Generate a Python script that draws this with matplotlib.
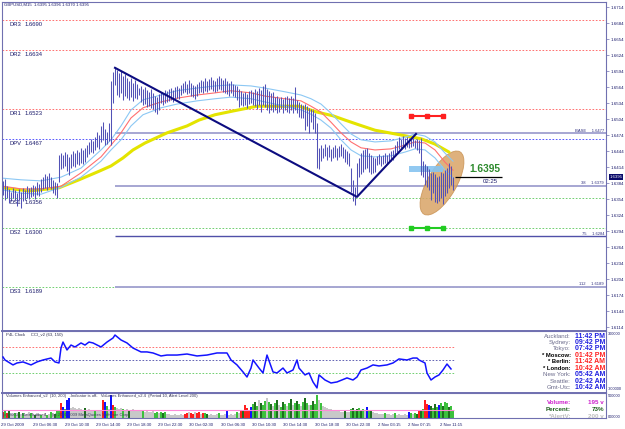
import matplotlib
matplotlib.use("Agg")
import matplotlib.pyplot as plt
from matplotlib.patches import Ellipse, Rectangle
from matplotlib.transforms import ScaledTranslation, blended_transform_factory

plt.rcParams['font.family'] = ['Liberation Sans', 'DejaVu Sans']

# ---------------- data ----------------
header = "GBPUSD,M15  1.6395 1.6396 1.6370 1.6395"

highs = [1.6388,1.6392,1.6378,1.6372,1.6368,1.6375,1.6370,1.6366,1.6372,1.6368,1.6375,1.6370,1.6378,1.6374,
         1.6376,1.6380,1.6378,1.6385,1.6383,1.6392,1.6396,1.6401,1.6398,1.6403,1.6395,1.6390,1.6386,1.6384,
         1.6437,1.6440,1.6436,1.6442,1.6438,1.6433,1.6439,1.6444,1.6441,1.6446,1.6443,1.6449,1.6446,1.6450,
         1.6455,1.6460,1.6466,1.6463,1.6470,1.6480,1.6474,
         1.6490,1.6498,1.6486,1.6480,1.6496,
         1.6575,1.6592,1.6600,1.6596,1.6590,1.6594,
         1.6585,1.6588,1.6581,1.6575,1.6580,1.6572,1.6577,1.6570,1.6562,1.6566,
         1.6560,1.6564,1.6558,1.6555,1.6560,1.6552,1.6548,1.6545,1.6550,1.6555,
         1.6552,1.6558,1.6556,1.6560,1.6562,1.6558,1.6564,1.6566,1.6562,1.6568,
         1.6572,1.6575,1.6570,1.6578,1.6572,1.6568,1.6565,1.6570,1.6574,1.6577,
         1.6575,1.6580,1.6576,1.6579,1.6582,1.6578,1.6575,1.6580,1.6584,1.6581,
         1.6578,1.6580,1.6576,1.6572,1.6575,1.6570,1.6568,1.6565,1.6560,1.6556,
         1.6552,1.6555,1.6550,1.6556,1.6558,1.6554,1.6560,1.6557,1.6562,1.6558,
         1.6566,1.6569,1.6560,1.6556,1.6552,1.6555,1.6545,1.6548,1.6544,1.6546,
         1.6542,1.6545,1.6548,1.6544,1.6547,1.6543,1.6564,1.6540,1.6536,1.6533,
         1.6530,1.6532,1.6528,1.6525,1.6522,1.6520,1.6515,1.6497,1.6450,1.6455,
         1.6450,1.6458,1.6452,1.6455,1.6448,1.6452,1.6456,1.6450,1.6454,1.6458,
         1.6452,1.6448,1.6444,1.6440,1.6412,1.6390,1.6376,1.6421,1.6430,1.6440,
         1.6445,1.6448,1.6450,1.6440,1.6436,1.6432,1.6430,1.6435,1.6438,1.6434,
         1.6437,1.6440,1.6436,1.6441,1.6444,1.6446,1.6455,1.6462,1.6470,1.6466,
         1.6472,1.6468,1.6471,1.6468,1.6466,1.6468,1.6464,1.6467,1.6465,1.6469,
         1.6425,1.6420,1.6415,1.6410,1.6402,1.6405,1.6400,1.6395,1.6398,1.6405,
         1.6402,1.6408,1.6412,1.6421,1.6415,1.6396]

lows = [1.6362,1.6352,1.6355,1.6346,1.6350,1.6356,1.6352,1.6340,1.6352,1.6337,1.6350,1.6352,1.6356,1.6354,
        1.6358,1.6360,1.6354,1.6362,1.6360,1.6368,1.6372,1.6375,1.6370,1.6377,1.6372,1.6366,1.6362,1.6355,
        1.6386,1.6410,1.6412,1.6415,1.6406,1.6399,1.6412,1.6416,1.6414,1.6420,1.6418,1.6422,1.6420,1.6424,
        1.6432,1.6438,1.6442,1.6440,1.6445,1.6452,1.6448,
        1.6460,1.6465,1.6455,1.6458,1.6462,
        1.6455,1.6534,1.6568,1.6549,1.6545,1.6552,
        1.6540,1.6548,1.6543,1.6540,1.6546,1.6538,1.6544,1.6542,1.6549,1.6536,
        1.6530,1.6532,1.6526,1.6528,1.6525,1.6522,1.6518,1.6514,1.6520,1.6534,
        1.6530,1.6534,1.6536,1.6538,1.6540,1.6536,1.6542,1.6544,1.6542,1.6549,
        1.6552,1.6555,1.6550,1.6552,1.6548,1.6546,1.6542,1.6548,1.6552,1.6555,
        1.6553,1.6556,1.6555,1.6558,1.6560,1.6556,1.6554,1.6557,1.6560,1.6558,
        1.6554,1.6552,1.6550,1.6548,1.6552,1.6547,1.6545,1.6540,1.6526,1.6530,
        1.6528,1.6530,1.6525,1.6532,1.6534,1.6530,1.6528,1.6522,1.6530,1.6518,
        1.6530,1.6526,1.6520,1.6515,1.6520,1.6518,1.6520,1.6516,1.6518,1.6522,
        1.6515,1.6520,1.6518,1.6516,1.6520,1.6515,1.6520,1.6515,1.6508,1.6506,
        1.6505,1.6483,1.6490,1.6478,1.6498,1.6486,1.6478,1.6412,1.6410,1.6425,
        1.6430,1.6434,1.6428,1.6432,1.6426,1.6430,1.6433,1.6428,1.6432,1.6435,
        1.6430,1.6424,1.6420,1.6415,1.6367,1.6350,1.6343,1.6361,1.6395,1.6400,
        1.6405,1.6410,1.6412,1.6405,1.6400,1.6402,1.6405,1.6418,1.6420,1.6416,
        1.6420,1.6422,1.6420,1.6424,1.6426,1.6428,1.6435,1.6442,1.6448,1.6450,
        1.6452,1.6448,1.6452,1.6450,1.6452,1.6454,1.6450,1.6446,1.6440,1.6399,
        1.6395,1.6380,1.6376,1.6370,1.6352,1.6365,1.6348,1.6346,1.6350,1.6355,
        1.6345,1.6360,1.6365,1.6375,1.6380,1.6370]

ma_idx = [0,9,19,29,39,49,54,59,64,70,79,87,97,106,114,124,131,141,149,154,159,164,169,174,179,186,194,201,206,211,216,221,225]
ma_mid = [1.6378,1.6373,1.6373,1.6378,1.6403,1.6433,1.6455,1.6478,1.6506,1.6525,1.6536,1.6543,1.6549,1.6553,1.6557,1.6553,
          1.6547,1.6542,1.6538,1.6528,1.6517,1.6498,1.6478,1.6461,1.6450,1.6446,1.6448,1.6455,1.6461,1.6459,1.6446,1.6423,1.6408]
ma_upper = [1.6393,1.6390,1.6388,1.6395,1.6412,1.6446,1.6465,1.6491,1.6521,1.6540,1.6549,1.6557,1.6562,1.6566,1.6568,1.6566,
            1.6562,1.6555,1.6549,1.6542,1.6532,1.6515,1.6495,1.6476,1.6465,1.6461,1.6463,1.6470,1.6476,1.6472,1.6461,1.6440,1.6425]
ma_lower = [1.6371,1.6365,1.6363,1.6376,1.6395,1.6425,1.6446,1.6465,1.6491,1.6512,1.6525,1.6532,1.6538,1.6542,1.6545,1.6542,
            1.6536,1.6528,1.6521,1.6513,1.6502,1.6487,1.6465,1.6446,1.6435,1.6433,1.6435,1.6442,1.6448,1.6446,1.6431,1.6408,1.6393]

slow_idx = [0,13,28,38,48,54,60,65,71,82,92,98,106,115,127,138,148,157,165,171,178,186,199,209,216,223]
slow_ma = [1.6375,1.6369,1.6375,1.6390,1.6406,1.6416,1.6431,1.6446,1.6459,1.6478,1.6491,1.6502,1.6512,1.6519,1.6528,1.6528,
           1.6528,1.6517,1.6510,1.6502,1.6493,1.6483,1.6474,1.6467,1.6457,1.6442]

pivot_names = ["DR3", "DR2", "DR1", "DPV", "DS1", "DS2", "DS3"]
pivot_values = [1.6690, 1.6634, 1.6523, 1.6467, 1.6356, 1.6300, 1.6189]
pivot_colors = ["#ff5a5a", "#ff5a5a", "#ff5a5a", "#3c3cff", "#5ac85a", "#5ac85a", "#5ac85a"]

fib_names = ["BASE", "38", "75", "112"]
fib_values = [1.6477, 1.6379, 1.6284, 1.6189]
fib_colors = ["#a6a6d2", "#a6a6d2", "#5050a8", "#a6a6d2"]
fib_start = 56

trend_idx = [56, 177, 206.5]
trend_price = [1.6600, 1.6358, 1.6476]

target_idx = [204, 212, 220]
target_high = 1.6510
target_low = 1.6300

zone_idx = [203, 220]
zone_price = [1.6405, 1.6416]
ellipse_center = (219.5, 1.6384)

last_price = 1.6395
bar_timer = "02:25"

price_ticks = [1.6714,1.6684,1.6654,1.6624,1.6594,1.6564,1.6534,1.6504,1.6474,1.6444,1.6414,
               1.6384,1.6354,1.6324,1.6294,1.6264,1.6234,1.6204,1.6174,1.6144,1.6114]

cci_idx = [0,1,5,7,10,14,17,20,24,26,28,29,30,32,34,36,39,41,43,45,49,52,55,56,59,62,65,69,72,75,
           79,82,87,92,97,102,107,112,114,117,120,122,124,125,128,130,132,135,137,140,142,145,147,148,151,153,155,157,158,161,
           164,167,172,175,177,179,182,185,188,192,195,198,202,205,207,208,211,212,214,216,218,220,222,224]
cci_vals = [23,0,-38,-23,-15,-38,-15,0,15,-15,-23,92,138,77,115,100,131,115,138,131,100,138,169,192,154,131,92,62,62,54,
            31,38,38,46,31,38,54,54,0,-38,-92,-131,-62,0,-62,-100,38,-92,-100,-62,-100,-77,0,-62,-115,-100,-169,-215,-115,-154,
            -177,-169,-138,-154,-131,-77,-62,-38,-46,-38,-23,8,0,15,15,0,-23,-100,-154,-131,-115,-77,-31,-69]
cci_levels = [100, 0, -100]
cci_level_colors = ["#ff5a5a", "#4a4aa8", "#5ac85a"]
cci_label = "P4L Clock     CCI_v2 (63, 150)"

volumes = [150,200,125,175,100,
           100,125,75,150,100,125,75,100,150,125,100,75,125,100,75,100,125,75,100,150,125,100,
           200,175,
           375,275,225,450,500,
           250,275,250,225,250,225,200,
           250,
           200,225,200,175,
           200,
           175,200,175,
           450,400,300,225,575,325,275,
           250,225,250,225,200,225,200,200,225,175,200,175,175,200,150,175,150,150,175,125,150,125,
           150,125,150,100,
           100,75,75,100,75,75,100,75,
           100,125,150,125,100,150,125,150,100,125,
           125,100,
           75,100,75,75,100,
           125,
           75,75,100,
           200,
           75,100,75,100,
           150,125,200,175,
           325,250,200,275,
           350,400,300,450,375,325,425,500,400,350,300,375,450,325,275,400,350,300,375,475,325,375,425,350,300,400,500,375,325,325,425,350,575,450,375,300,
           275,250,225,225,200,200,175,175,150,150,
           200,150,150,
           225,250,200,225,250,200,225,
           175,275,200,175,150,
           125,125,100,100,100,
           125,100,100,75,100,
           125,75,100,75,75,100,75,
           150,125,100,125,100,
           200,200,225,450,350,325,
           300,250,350,275,325,375,300,400,
           375,275,300,195]
vol_colors = ("rgrGs" "sgsGsgsssgsGssgssgsgsG" "gg" "rbgbb" "sssssss" "G" "ssss" "g" "sss"
              "rbgsbrg" "sssgssGssssssgsssssggs" "gGgs" "ssssssss" "rrsrrsrrsr" "gG" "sssss" "g" "sss" "b" "ssss"
              "gsrG" "rrrb" "gGgsGggsgGsgGsgGgsgGsgGgsgGgsgGggsgs" "ssssssssss" "Gss" "gGgGgGg" "sbgGs"
              "sssss" "gssss" "gssssss" "bgsgG" "rGgrrb" "GgGgbgGg" "gGgg")
alert_level = 200
vol_label = "Volumes Enhanced_v2  (10, 200)   -Indicator is off-   Volumes Enhanced_v2.4  (Period 10, Alert Level 200)"
copyright_text = "(c) 2009 - MetaTrader 4     (c) 2001-2009 MetaQuotes Software Corp."

date_labels = ["29 Oct 2009", "29 Oct 06:30", "29 Oct 10:30", "29 Oct 14:30", "29 Oct 18:30", "29 Oct 22:30",
               "30 Oct 02:30", "30 Oct 06:30", "30 Oct 10:30", "30 Oct 14:30", "30 Oct 18:30", "30 Oct 22:30",
               "2 Nov 03:15", "2 Nov 07:15", "2 Nov 11:15"]
date_pos = [-1, 15, 31, 46.5, 62, 77.5, 93, 109, 124.5, 140, 156, 171.5, 187.5, 202.5, 218.5]

clock_cities = ["Auckland:", "Sydney:", "Tokyo:", "* Moscow:", "* Berlin:", "* London:", "New York:", "Seattle:", "Gmt-Utc:"]
clock_times = ["11:42 PM", "09:42 PM", "07:42 PM", "01:42 PM", "11:42 AM", "10:42 AM", "05:42 AM", "02:42 AM", "10:42 AM"]
clock_local = [False, False, False, True, True, True, False, False, False]

vol_info_names = ["Volume:", "Percent:", "*AlertV:"]
vol_info_values = ["195 v", "73%", "200 v"]
vol_info_colors = ["#cc22cc", "#1e5e1e", "#bdbdbd"]

# ---------------- figure ----------------
W, H = 625, 429
fig = plt.figure(figsize=(W / 100, H / 100), dpi=100)
fig.patch.set_facecolor("white")

def fx(x):
    return x / W

def fy(y):
    return 1 - y / H

FRAME = "#7070b0"
NAVY = "#1c1c6c"
XL = (-0.5, 301.5)

ax = fig.add_axes([fx(2), fy(331), fx(606) - fx(2), fy(2) - fy(331)])
ax_cci = fig.add_axes([fx(2), fy(393), fx(606) - fx(2), fy(331) - fy(393)])
ax_vol = fig.add_axes([fx(2), fy(418), fx(606) - fx(2), fy(393) - fy(418)])

for a in (ax, ax_cci, ax_vol):
    a.set_xlim(*XL)
    a.set_facecolor("white")
    for s in a.spines.values():
        s.set_color(FRAME)
        s.set_linewidth(0.8)
    a.tick_params(axis="x", bottom=False, labelbottom=False)
    a.yaxis.tick_right()
    a.tick_params(axis="y", length=2, width=0.5, color=FRAME, pad=1, labelsize=3.2, labelcolor=NAVY)

ax.spines["bottom"].set_linewidth(1.4)
ax_cci.spines["bottom"].set_linewidth(1.4)

# ---- main pane ----
ax.set_ylim(1.61065, 1.67234)
ax.set_yticks(price_ticks)
ax.set_yticklabels(["%.4f" % p for p in price_ticks])

n = min(len(highs), len(lows))
idx = list(range(n))

for v, c, name in zip(pivot_values, pivot_colors, pivot_names):
    ax.axhline(v, color=c, lw=0.6, ls=(0, (2, 2)), zorder=1)
    ax.text(3.5, v - 0.00035, name, fontsize=4.2, color=NAVY, va="top", ha="left", zorder=6)
    ax.text(11, v - 0.00035, "%.4f" % v, fontsize=4.2, color=NAVY, va="top", ha="left", zorder=6)

for v, c, name in zip(fib_values, fib_colors, fib_names):
    ax.hlines(v, fib_start, XL[1], color=c, lw=1.4 if c != "#5050a8" else 1.0, zorder=1)
    ax.text(300.5, v + 0.00012, name + "     " + "%.4f" % v, fontsize=3.0, color="#303080",
            ha="right", va="bottom", zorder=6)

# ellipse zone (drawn in pixel size, anchored on data point)
t_ell = fig.dpi_scale_trans + ScaledTranslation(ellipse_center[0], ellipse_center[1], ax.transData)
ax.add_patch(Ellipse((0, 0), width=0.72, height=0.29, angle=60, transform=t_ell,
                     facecolor="#d9a466", edgecolor="#c89050", lw=0.6, alpha=0.85, zorder=1.5))

ax.add_patch(Rectangle((zone_idx[0], zone_price[0]), zone_idx[1] - zone_idx[0], zone_price[1] - zone_price[0],
                       facecolor="#86c4f0", edgecolor="none", alpha=0.9, zorder=1.6))

ax.plot(slow_idx, slow_ma, color="#e4e400", lw=2.2, zorder=2, solid_capstyle="round")
ax.plot(ma_idx, ma_upper, color="#8cc8f4", lw=0.8, zorder=2)
ax.plot(ma_idx, ma_lower, color="#8cc8f4", lw=0.8, zorder=2)
ax.plot(ma_idx, ma_mid, color="#ff7070", lw=0.8, zorder=2)

ax.vlines(idx, lows[:n], highs[:n], color="#5252b6", lw=0.75, zorder=3)

ax.plot(trend_idx, trend_price, color="#0c0c80", lw=1.5, zorder=4)

ax.plot(target_idx, [target_high] * len(target_idx), color="#ff2020", lw=1.5, marker="s", ms=2.6, zorder=4)
ax.plot(target_idx, [target_low] * len(target_idx), color="#22cc22", lw=1.5, marker="s", ms=2.6, zorder=4)

ax.hlines(last_price, 226, 249.5, color="black", lw=0.9, zorder=4)
ax.text(233, last_price + 0.00055, "%.4f" % last_price, fontsize=7.3, fontweight="bold",
        color="#2e8b2e", ha="left", va="bottom", zorder=6)
ax.text(240, last_price - 0.00035, bar_timer, fontsize=4.3, color=NAVY, ha="left", va="top", zorder=6)

ax.annotate("%.4f" % last_price, xy=(1.0, last_price), xycoords=("axes fraction", "data"),
            xytext=(2.5, 0), textcoords="offset points", fontsize=3.1, color="white",
            ha="left", va="center",
            bbox=dict(boxstyle="square,pad=0.15", facecolor="#0a0a6a", edgecolor="none"), zorder=7)

fig.text(fx(4), fy(5), header, fontsize=3.1, color=NAVY, ha="left", va="center")

# ---- CCI pane ----
ax_cci.set_ylim(-254, 223)
ax_cci.set_yticks([])
for lv, c in zip(cci_levels, cci_level_colors):
    ax_cci.hlines(lv, XL[0], 225.5, color=c, lw=0.6, linestyles=[(0, (2, 2))], zorder=1)
ax_cci.plot(cci_idx, cci_vals, color="#1414ff", lw=1.1, zorder=3)
ax_cci.text(1.5, 205, cci_label, fontsize=3.1, color="#303050", ha="left", va="top")
fig.text(fx(608), fy(334), "300000", fontsize=2.8, color=NAVY, ha="left", va="center")
fig.text(fx(608), fy(389), "-300000", fontsize=2.8, color=NAVY, ha="left", va="center")

ys = [336 + 6.45 * k for k in range(len(clock_cities))]
for y, city, tm, loc in zip(ys, clock_cities, clock_times, clock_local):
    fig.text(fx(571), fy(y), city, fontsize=4.4 if not loc else 4.2,
             fontweight="bold" if loc else "normal",
             color="black" if loc else "#6c6c8c", ha="right", va="center")
    fig.text(fx(575), fy(y), tm, fontsize=5.0, fontweight="bold",
             color="#ff2020" if loc else "#1e1ee0", ha="left", va="center")

# ---- volume pane ----
ax_vol.set_ylim(0, 625)
ax_vol.set_yticks([])
palette = {"g": "#3cc03c", "G": "#1e6e1e", "r": "#ff1e1e", "b": "#1010ff", "s": "#c8c8c8"}
nv = min(len(volumes), n)
cols = [palette.get(vol_colors[k], "#c8c8c8") if k < len(vol_colors) else "#c8c8c8" for k in range(nv)]
ax_vol.bar(range(nv), volumes[:nv], width=0.6, color=cols, zorder=2)
ax_vol.hlines(alert_level, XL[0], 225.5, color="#ff8ad8", lw=0.8, zorder=3)
ax_vol.text(1.5, 600, vol_label, fontsize=3.0, color="#303050", ha="left", va="top", zorder=5)
ax_vol.text(0, 25, copyright_text, fontsize=3.0, color="#404060", ha="left", va="bottom", zorder=5)
fig.text(fx(608), fy(396), "500000", fontsize=2.8, color=NAVY, ha="left", va="center")
fig.text(fx(608), fy(417), "000000", fontsize=2.8, color=NAVY, ha="left", va="center")

vy = [403, 409.5, 416]
for y, nm, val, c in zip(vy, vol_info_names, vol_info_values, vol_info_colors):
    fig.text(fx(571), fy(y), nm, fontsize=4.5, fontweight="bold", color=c, ha="right", va="center")
    fig.text(fx(604), fy(y), val, fontsize=4.5, fontweight="bold", color=c, ha="right", va="center")

# date labels
tr = blended_transform_factory(ax_vol.transData, fig.transFigure)
for p, lab in zip(date_pos, date_labels):
    ax_vol.text(p, fy(424.5), lab, transform=tr, fontsize=3.1, color=NAVY, ha="left", va="center", clip_on=False)

fig.savefig("out.png", dpi=100, facecolor="white")
